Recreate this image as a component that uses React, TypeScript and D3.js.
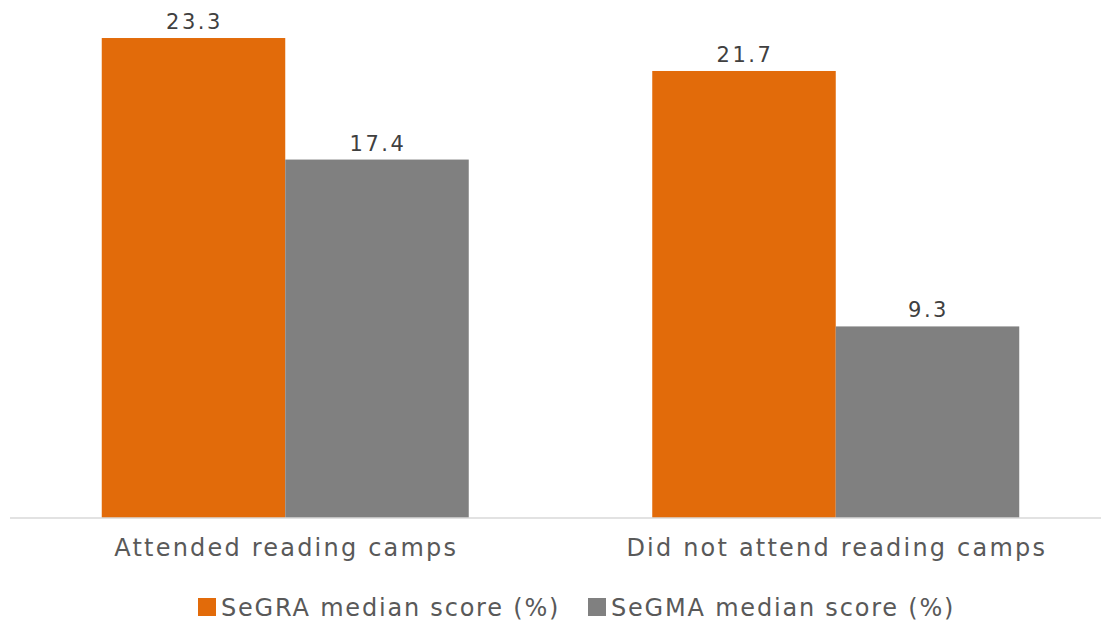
import React from "react";
import * as d3 from "d3";

const categories = ["Attended reading camps", "Did not attend reading camps"];
const seriesNames = ["SeGRA median score (%)", "SeGMA median score (%)"];
const segra = [23.3, 21.7];
const segma = [17.4, 9.3];
const colors = ["#E26B0A", "#808080"];

const W = 1101;
const H = 624;
const FONT = "'DejaVu Sans', Verdana, sans-serif";

export default function App() {
  const baseline = 518;
  const y = d3.scaleLinear().domain([0, 25]).range([baseline, baseline - 25 * 20.6]);
  const x0 = d3.scaleBand<string>().domain(categories).range([10, 1111]).paddingInner(1 / 3).paddingOuter(1 / 6);
  const x1 = d3.scaleBand<number>().domain([0, 1]).range([0, x0.bandwidth()]);
  const data = [segra, segma];

  return (
    <svg width={W} height={H} style={{ position: "absolute", left: 0, top: 0, background: "#fff" }}>
      <rect x={0} y={0} width={W} height={H} fill="#fff" />
      {categories.map((c, i) => (
        <g key={c} transform={`translate(${x0(c)},0)`}>
          {data.map((s, j) => (
            <g key={j}>
              <rect x={x1(j)} y={y(s[i])} width={x1.bandwidth()} height={baseline - y(s[i])} fill={colors[j]} />
              <text
                x={(x1(j) as number) + x1.bandwidth() / 2 + 1}
                y={y(s[i]) - 9}
                textAnchor="middle"
                fontFamily={FONT}
                fontSize={21}
                letterSpacing={2.5}
                fill="#404040"
              >
                {d3.format(".1f")(s[i])}
              </text>
            </g>
          ))}
          <text
            x={x0.bandwidth() / 2 + 1}
            y={556}
            textAnchor="middle"
            fontFamily={FONT}
            fontSize={24}
            letterSpacing={2.2}
            fill="#595959"
          >
            {c}
          </text>
        </g>
      ))}
      <line x1={10} x2={1101} y1={baseline} y2={baseline} stroke="#D9D9D9" strokeWidth={1.5} />
      {seriesNames.map((n, j) => {
        const lx = j === 0 ? 198 : 588;
        return (
          <g key={n}>
            <rect x={lx} y={598} width={18} height={18} fill={colors[j]} />
            <text x={lx + 23} y={616} fontFamily={FONT} fontSize={24} letterSpacing={1.8} fill="#595959">
              {n}
            </text>
          </g>
        );
      })}
    </svg>
  );
}
